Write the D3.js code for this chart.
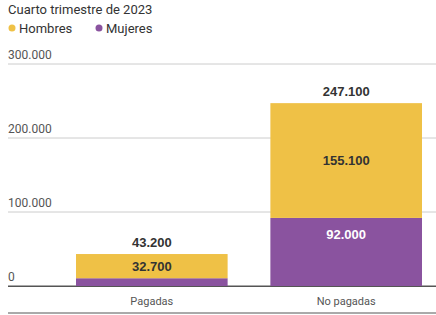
<!DOCTYPE html>
<html>
<head>
<meta charset="utf-8">
<script src="https://cdn.jsdelivr.net/npm/d3@7"></script>
<style>
  body { margin: 0; background: #fff; }
  svg { display: block; }
</style>
</head>
<body>
<div id="chart"></div>
<script>
// chart data
var categories = ["Pagadas", "No pagadas"];
var mujeres = [10500, 92000];
var hombres = [32700, 155100];
var totals = [43200, 247100];
var series = ["Hombres", "Mujeres"];
var yTicks = [0, 100000, 200000, 300000];

var width = 436;
var height = 315;
var colors = { Hombres: "#efc146", Mujeres: "#8a539f" };

var svg = d3.select("#chart")
    .append("svg")
    .attr("width", width)
    .attr("height", height);

// number format with dots as thousands separator
var fmt = function(v) { return d3.format(",")(v).replace(/,/g, "."); };

var x = d3.scaleBand()
    .domain(categories)
    .range([76, 422])
    .paddingInner(0.22)
    .paddingOuter(0);

var y = d3.scaleLinear()
    .domain([0, 300000])
    .range([286, 64]);

// title
svg.append("text")
    .attr("x", 8)
    .attr("y", 14)
    .attr("font-family", "Roboto, sans-serif")
    .attr("font-size", 13)
    .attr("fill", "#333")
    .text("Cuarto trimestre de 2023");

// legend
var legendX = [8, 95];
series.forEach(function(s, i) {
    var g = svg.append("g").attr("transform", "translate(" + legendX[i] + ",28)");
    g.append("circle")
        .attr("cx", 4)
        .attr("cy", 0)
        .attr("r", 3.5)
        .attr("fill", colors[s]);
    g.append("text")
        .attr("x", 11)
        .attr("y", 4.5)
        .attr("font-family", "Roboto, sans-serif")
        .attr("font-size", 13)
        .attr("fill", "#333")
        .text(s);
});

// gridlines and tick labels
yTicks.forEach(function(t) {
    svg.append("line")
        .attr("x1", 8)
        .attr("x2", width)
        .attr("y1", y(t))
        .attr("y2", y(t))
        .attr("stroke", t === 0 ? "#555" : "#ccc")
        .attr("stroke-width", t === 0 ? 1.2 : 1);
    svg.append("text")
        .attr("x", 8)
        .attr("y", y(t) - 5)
        .attr("font-family", "Roboto, sans-serif")
        .attr("font-size", 12)
        .attr("fill", "#555")
        .text(fmt(t));
});

// stacked bars
var rows = categories.map(function(c, i) {
    return { cat: c, Mujeres: mujeres[i], Hombres: hombres[i], total: totals[i] };
});
var stack = d3.stack().keys(["Mujeres", "Hombres"])(rows);

stack.forEach(function(layer) {
    svg.append("g")
        .selectAll("rect")
        .data(layer)
        .enter()
        .append("rect")
        .attr("x", function(d) { return x(d.data.cat); })
        .attr("y", function(d) { return y(d[1]); })
        .attr("width", x.bandwidth())
        .attr("height", function(d) { return y(d[0]) - y(d[1]); })
        .attr("fill", colors[layer.key]);
});

// redraw baseline over bars
svg.append("line")
    .attr("x1", 8)
    .attr("x2", width)
    .attr("y1", y(0) + 0.5)
    .attr("y2", y(0) + 0.5)
    .attr("stroke", "#555")
    .attr("stroke-width", 1.2);

var labelFont = "'Liberation Sans', Arial, sans-serif";

// total labels above bars
svg.selectAll(".total")
    .data(rows)
    .enter()
    .append("text")
    .attr("x", function(d) { return x(d.cat) + x.bandwidth() / 2; })
    .attr("y", function(d) { return y(d.total) - 7; })
    .attr("text-anchor", "middle")
    .attr("font-family", labelFont)
    .attr("font-weight", "bold")
    .attr("font-size", 13)
    .attr("fill", "#333")
    .text(function(d) { return fmt(d.total); });

// hombres labels (inside yellow)
svg.selectAll(".hom")
    .data(rows)
    .enter()
    .append("text")
    .attr("x", function(d) { return x(d.cat) + x.bandwidth() / 2; })
    .attr("y", function(d) {
        var top = y(d.total), bot = y(d.Mujeres);
        return (top + bot) / 2 + 4.5;
    })
    .attr("text-anchor", "middle")
    .attr("font-family", labelFont)
    .attr("font-weight", "bold")
    .attr("font-size", 13)
    .attr("fill", "#333")
    .text(function(d) { return fmt(d.Hombres); });

// mujeres label, only where the segment is tall enough
svg.selectAll(".muj")
    .data(rows.filter(function(d) { return y(0) - y(d.Mujeres) > 20; }))
    .enter()
    .append("text")
    .attr("x", function(d) { return x(d.cat) + x.bandwidth() / 2; })
    .attr("y", function(d) { return y(d.Mujeres) + 21; })
    .attr("text-anchor", "middle")
    .attr("font-family", labelFont)
    .attr("font-weight", "bold")
    .attr("font-size", 13)
    .attr("fill", "#fff")
    .text(function(d) { return fmt(d.Mujeres); });

// category labels
svg.selectAll(".cat")
    .data(categories)
    .enter()
    .append("text")
    .attr("x", function(d) { return x(d) + x.bandwidth() / 2; })
    .attr("y", 305)
    .attr("text-anchor", "middle")
    .attr("font-family", "Roboto, sans-serif")
    .attr("font-size", 11)
    .attr("fill", "#555")
    .text(function(d) { return d; });

// bottom rule
svg.append("line")
    .attr("x1", 8)
    .attr("x2", width)
    .attr("y1", 313)
    .attr("y2", 313)
    .attr("stroke", "#555")
    .attr("stroke-width", 1);
</script>
</body>
</html>
